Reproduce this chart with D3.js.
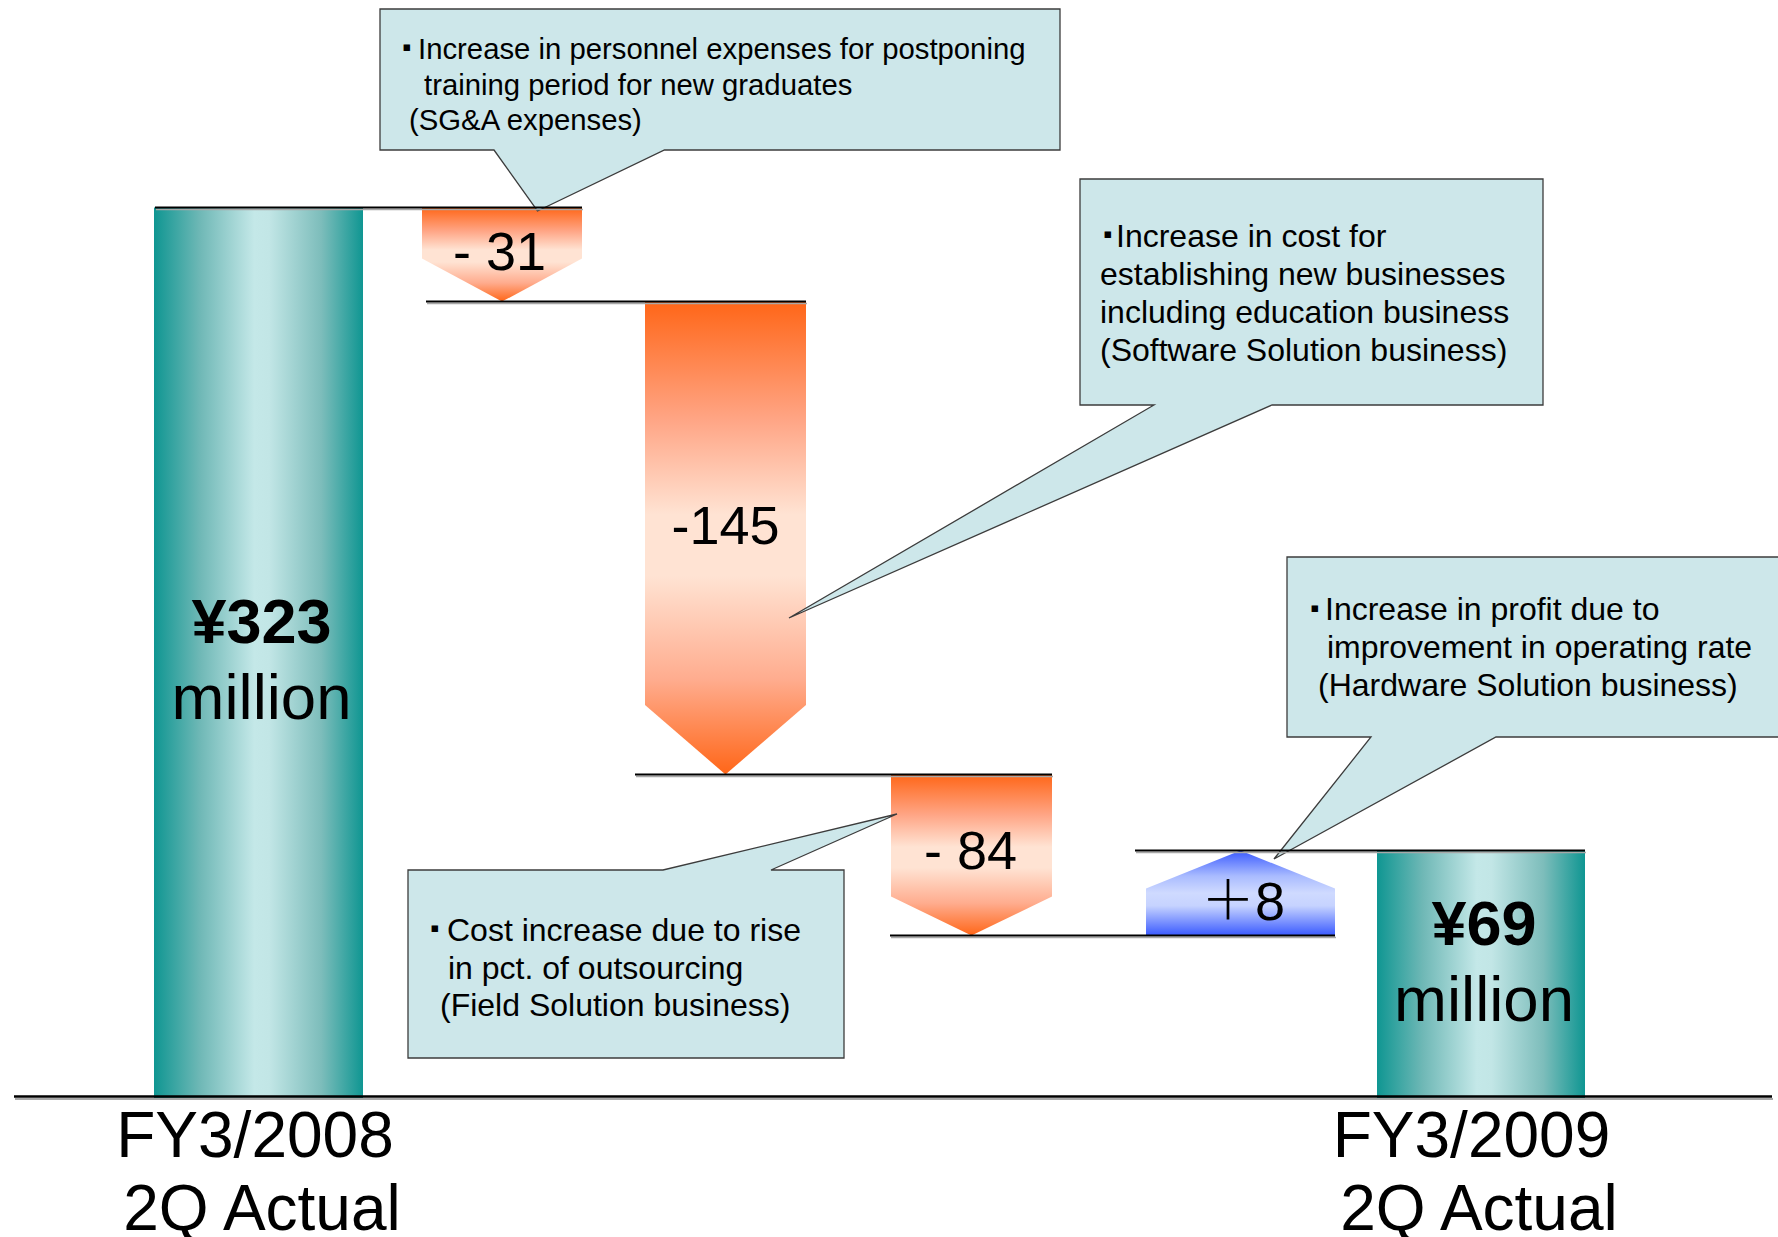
<!DOCTYPE html>
<html>
<head>
<meta charset="utf-8">
<script src="https://cdn.jsdelivr.net/npm/d3@7"></script>
<style>
  html, body { margin: 0; padding: 0; background: #fff; }
  svg { display: block; }
</style>
</head>
<body>
<svg id="chart" width="1778" height="1237"></svg>
<script>
// Operating income bridge: FY3/2008 2Q actual -> FY3/2009 2Q actual (¥ million)
const steps = ["FY3/2008 2Q", "SG&A", "Software Solution", "Field Solution", "Hardware Solution", "FY3/2009 2Q"];
const startTotal = 323;
const changes = [-31, -145, -84, 8];
const endTotal = 69;
const changeLabels = ["- 31", "-145", "- 84", "\uFF0B8"];
const totalLabels = ["¥323", "¥69"];
const unitLabel = "million";
const periodLabels = [["FY3/2008", "2Q Actual"], ["FY3/2009", "2Q Actual"]];
const notes = [
  ["Increase in personnel expenses for postponing", "training period for new graduates", "(SG&A expenses)"],
  ["Increase in cost for", "establishing new businesses", "including education business", "(Software Solution business)"],
  ["Cost increase due to rise", "in pct. of outsourcing", "(Field Solution business)"],
  ["Increase in profit due to", "improvement in operating rate", "(Hardware Solution business)"]
];

// ---- layout ----
const FONT = "'Liberation Sans', Arial, Helvetica, sans-serif";
const colCenters = [258.5, 502, 725.5, 971.5, 1240.5, 1481];
const colWidths = [209, 160, 161, 161, 189, 208];
const headDepth = [43, 69.5, 39, 38];
const changeLabelDy = [15.5, 6, 13.5, 26.5];
const changeLabelDx = [-2.5, 0, -1, 2.5];
const totalLabelDy = [-10, -29];
const periodDx = [[-3.5, 3.5], [-9.5, -2]];
const connectorPad = [1, 4, -10, -1, -11];

// running levels after each step
const levels = [startTotal];
changes.forEach(c => levels.push(levels[levels.length - 1] + c));
const stopValues = Array.from(new Set([0, endTotal, ...levels])).sort((a, b) => a - b);
// the bridge is drawn schematically: each level gets its own row
const stopRows = [1098, 935.5, 850.5, 850.5, 774.5, 301.6, 207.5];

const x = d3.scaleOrdinal().domain(steps).range(colCenters);
const y = d3.scaleLinear().domain(stopValues).range(stopRows);
const widthOf = d3.scaleOrdinal().domain(steps).range(colWidths);

const svg = d3.select("#chart");
const defs = svg.append("defs");

function grad(id, horizontal, stops) {
  const g = defs.append("linearGradient").attr("id", id)
    .attr("x1", 0).attr("y1", 0).attr("x2", horizontal ? 1 : 0).attr("y2", horizontal ? 0 : 1);
  stops.forEach(([o, c]) => g.append("stop").attr("offset", o).attr("stop-color", c));
}
grad("teal", true, [[0, "#0f9692"], [0.22, "#6fb8b6"], [0.48, "#c4e8e8"], [0.55, "#c2e6e6"], [0.8, "#7dbdbb"], [1, "#0f9692"]]);
grad("orange", false, [[0, "#ff6618"], [0.25, "#ffa585"], [0.45, "#ffe3d3"], [0.58, "#ffe3d3"], [0.8, "#ffac8e"], [1, "#ff6618"]]);
grad("blue", false, [[0, "#3a5aff"], [0.3, "#a9bbff"], [0.5, "#cfdaff"], [0.65, "#c6d3ff"], [1, "#3a5aff"]]);

// ---- totals (start / end bars) ----
const totals = [
  { step: steps[0], value: startTotal, label: totalLabels[0], period: periodLabels[0] },
  { step: steps[steps.length - 1], value: endTotal, label: totalLabels[1], period: periodLabels[1] }
];
const gBars = svg.append("g");
gBars.selectAll("rect.total").data(totals).join("rect")
  .attr("class", "total")
  .attr("x", d => x(d.step) - widthOf(d.step) / 2)
  .attr("width", d => widthOf(d.step))
  .attr("y", d => y(d.value))
  .attr("height", d => y(0) - y(d.value))
  .attr("fill", "url(#teal)");

// ---- change arrows ----
const changeData = changes.map((v, i) => ({
  step: steps[i + 1], value: v, from: levels[i], to: levels[i + 1],
  label: changeLabels[i], head: headDepth[i], i
}));
function arrowPath(d) {
  const cx = x(d.step), w = widthOf(d.step);
  const l = cx - w / 2, r = cx + w / 2;
  const y0 = y(d.from), y1 = y(d.to);
  const s = y1 > y0 ? -d.head : d.head;
  return `M${l},${y0}H${r}V${y1 + s}L${cx},${y1}L${l},${y1 + s}Z`;
}
gBars.selectAll("path.change").data(changeData).join("path")
  .attr("class", "change")
  .attr("d", arrowPath)
  .attr("fill", d => d.value < 0 ? "url(#orange)" : "url(#blue)");

// ---- callouts ----
const noteLayout = [
  { box: [380, 9, 1060, 150], tail: { edge: "bottom", x1: 494, x2: 664.5, tip: [537.5, 211] },
    size: 29.3, bullet: [407, 11], lines: [[418, 59], [424, 95], [409, 130]] },
  { box: [1080, 179, 1543, 405], tail: { edge: "bottom", x1: 1154, x2: 1272, tip: [789, 618] },
    size: 32, bullet: [1108, 12], lines: [[1116, 247], [1100, 285], [1100, 323], [1100, 361]] },
  { box: [408, 870, 844, 1058], tail: { edge: "top", x1: 663, x2: 771, tip: [897, 814] },
    size: 32, bullet: [435, 12], lines: [[447, 941], [448, 979], [440, 1016]] },
  { box: [1287, 557, 1800, 737], tail: { edge: "bottom", x1: 1371, x2: 1496, tip: [1274, 859] },
    size: 32, bullet: [1315, 11], lines: [[1325, 620], [1327, 658], [1318, 696]] }
];
function calloutPath(L) {
  const [l, t, r, b] = L.box, T = L.tail;
  if (T.edge === "bottom") {
    return `M${l},${t}H${r}V${b}H${T.x2}L${T.tip[0]},${T.tip[1]}L${T.x1},${b}H${l}Z`;
  }
  return `M${l},${t}H${T.x1}L${T.tip[0]},${T.tip[1]}L${T.x2},${t}H${r}V${b}H${l}Z`;
}
const gNotes = svg.append("g");
notes.forEach((lines, i) => {
  const L = noteLayout[i];
  const g = gNotes.append("g");
  g.append("path").attr("d", calloutPath(L))
    .attr("fill", "#cde7ea").attr("stroke", "#3c3c3c").attr("stroke-width", 1.3)
    .attr("stroke-linejoin", "miter");
  g.append("text")
    .attr("x", L.bullet[0]).attr("y", L.lines[0][1] - L.bullet[1] + 2.5)
    .attr("font-family", "'DejaVu Sans', sans-serif").attr("font-size", 13)
    .attr("text-anchor", "middle").attr("fill", "#000").text("\u25AA");
  g.selectAll("text.line").data(lines).join("text")
    .attr("class", "line")
    .attr("x", (d, k) => L.lines[k][0]).attr("y", (d, k) => L.lines[k][1])
    .attr("font-family", FONT).attr("font-size", L.size).attr("fill", "#000")
    .text(d => d);
});

// ---- value labels ----
const gLabels = svg.append("g").attr("font-family", FONT).attr("fill", "#000");
gLabels.selectAll("text.change").data(changeData).join("text")
  .attr("class", "change")
  .attr("x", d => x(d.step) + changeLabelDx[d.i])
  .attr("y", d => (y(d.from) + y(d.to)) / 2 + changeLabelDy[d.i])
  .attr("text-anchor", "middle").attr("font-size", 54)
  .each(function (d) {
    const t = d3.select(this);
    if (d.label.startsWith("\uFF0B")) {
      t.append("tspan").attr("font-family", "'Noto Sans CJK JP', sans-serif").attr("font-weight", 300).text("\uFF0B");
      t.append("tspan").text(d.label.slice(1));
    } else {
      t.text(d.label);
    }
  });

totals.forEach((d, i) => {
  const mid = (y(d.value) + y(0)) / 2 + totalLabelDy[i];
  gLabels.append("text").attr("x", x(d.step) + 3).attr("y", mid)
    .attr("text-anchor", "middle").attr("font-size", 63).attr("font-weight", "bold").text(d.label);
  gLabels.append("text").attr("x", x(d.step) + 3).attr("y", mid + 76)
    .attr("text-anchor", "middle").attr("font-size", 63.5).text(unitLabel);
  d.period.forEach((p, k) => {
    gLabels.append("text").attr("x", x(d.step) + periodDx[i][k]).attr("y", 1157 + k * 73)
      .attr("text-anchor", "middle").attr("font-size", 64).text(p);
  });
});

// ---- level connector lines and base line ----
const connectors = [];
for (let k = 0; k < steps.length - 1; k++) {
  const a = steps[k], b = steps[k + 1];
  const lvl = k === steps.length - 2 ? endTotal : levels[k];
  connectors.push({
    x1: x(a) - widthOf(a) / 2 + connectorPad[k],
    x2: x(b) + widthOf(b) / 2,
    y: y(lvl)
  });
}
const gLines = svg.append("g");
gLines.selectAll("line.shadow").data(connectors).join("line")
  .attr("class", "shadow")
  .attr("x1", d => d.x1 + 1).attr("x2", d => d.x2 + 1)
  .attr("y1", d => d.y + 2).attr("y2", d => d.y + 2)
  .attr("stroke", "#a8a8a8").attr("stroke-width", 1.5);
gLines.selectAll("line.level").data(connectors).join("line")
  .attr("class", "level")
  .attr("x1", d => d.x1).attr("x2", d => d.x2)
  .attr("y1", d => d.y).attr("y2", d => d.y)
  .attr("stroke", "#000").attr("stroke-width", 2);

gLines.append("line").attr("x1", 15).attr("x2", 1773).attr("y1", y(0) + 1).attr("y2", y(0) + 1)
  .attr("stroke", "#a8a8a8").attr("stroke-width", 2);
gLines.append("line").attr("x1", 14).attr("x2", 1772).attr("y1", y(0) - 1.5).attr("y2", y(0) - 1.5)
  .attr("stroke", "#000").attr("stroke-width", 2.5);
</script>
</body>
</html>
